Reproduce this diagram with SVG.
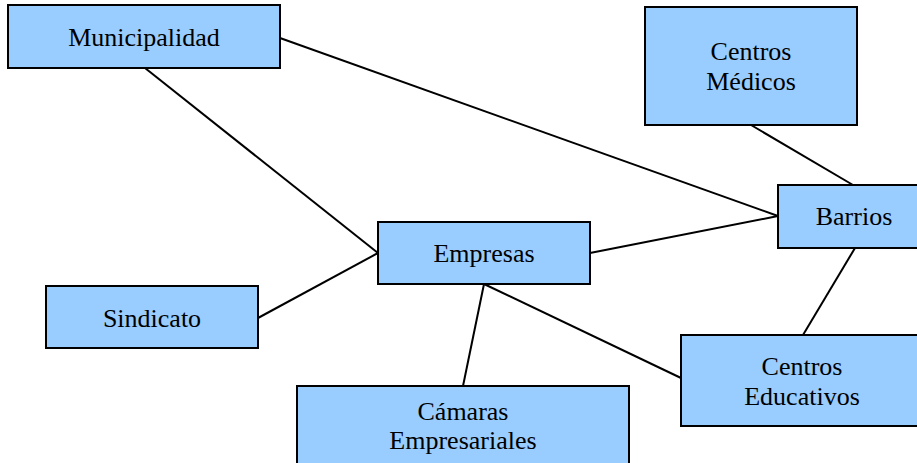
<svg xmlns="http://www.w3.org/2000/svg" width="917" height="463" viewBox="0 0 917 463">
<style>
.box{fill:#99ccff;stroke:#000;stroke-width:2}
.t{font-family:"Liberation Serif","Times New Roman","DejaVu Serif",serif;font-size:26px;fill:#000;text-anchor:middle}
.c{stroke:#000;stroke-width:2;fill:none}
</style>
<rect width="917" height="463" fill="#fff"/>
<g id="connectors">
<line class="c" x1="145" y1="68" x2="378" y2="253"/>
<line class="c" x1="280" y1="38" x2="778" y2="216"/>
<line class="c" x1="258" y1="318" x2="378" y2="253"/>
<line class="c" x1="590" y1="253" x2="778" y2="216"/>
<line class="c" x1="751" y1="125" x2="853" y2="185"/>
<line class="c" x1="855" y1="248" x2="803" y2="335"/>
<line class="c" x1="484" y1="284" x2="463" y2="386"/>
<line class="c" x1="484" y1="284" x2="681" y2="378"/>
</g>
<g id="municipalidad"><rect class="box" x="8" y="5" width="272" height="63"/><text class="t" x="144" y="46">Municipalidad</text></g>
<g id="centros-medicos"><rect class="box" x="645" y="7" width="212" height="118"/><text class="t" x="751" y="60">Centros</text><text class="t" x="751" y="90">Médicos</text></g>
<g id="barrios"><rect class="box" x="778" y="185" width="150" height="63"/><text class="t" x="854" y="225">Barrios</text></g>
<g id="empresas"><rect class="box" x="378" y="222" width="212" height="62"/><text class="t" x="484" y="262">Empresas</text></g>
<g id="sindicato"><rect class="box" x="46" y="286" width="212" height="62"/><text class="t" x="152" y="327">Sindicato</text></g>
<g id="camaras"><rect class="box" x="297" y="386" width="332" height="90"/><text class="t" x="463" y="420">Cámaras</text><text class="t" x="463" y="449">Empresariales</text></g>
<g id="centros-educativos"><rect class="box" x="681" y="335" width="242" height="91"/><text class="t" x="802" y="375">Centros</text><text class="t" x="802" y="405">Educativos</text></g>
</svg>
